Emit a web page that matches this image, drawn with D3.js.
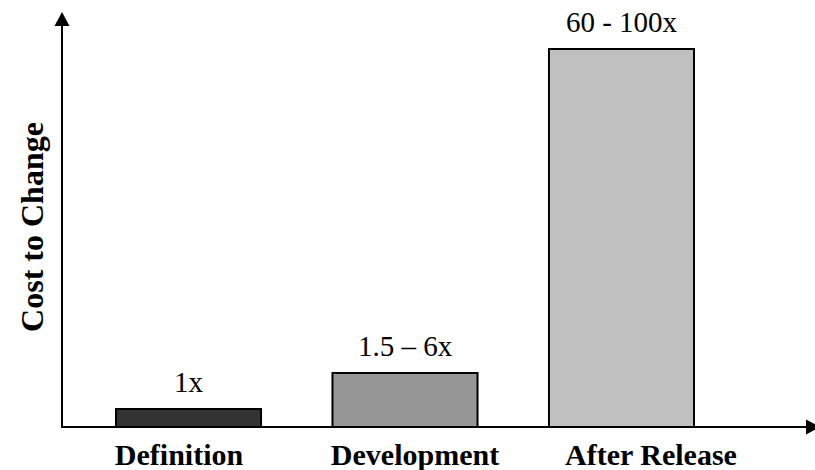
<!DOCTYPE html>
<html>
<head>
<meta charset="utf-8">
<script src="https://cdn.jsdelivr.net/npm/d3@7"></script>
<style>
  html, body { margin: 0; padding: 0; background: #fff; }
  svg { display: block; }
  text { font-family: "Liberation Serif", "Times New Roman", serif; fill: #000; }
</style>
</head>
<body>
<svg id="chart" width="815" height="470"></svg>
<script>
// Data
const categories = ["Definition", "Development", "After Release"];
const values = [1, 3, 21];
const valueLabels = ["1x", "1.5 \u2013 6x", "60 - 100x"];
const barColors = ["#333333", "#969696", "#c0c0c0"];
const yTitle = "Cost to Change";

const svg = d3.select("#chart");
const W = 815, H = 470;
const x0 = 62, y0 = 427;

const x = d3.scaleBand().domain(categories).range([116, 694]).paddingInner(0.33).paddingOuter(0);
const xLab = d3.scalePoint().domain(categories).range([179, 651]);
const y = d3.scaleLinear().domain([0, 23]).range([y0, 13]);

// Bars
svg.selectAll("rect.bar").data(categories).join("rect")
  .attr("class", "bar")
  .attr("x", d => x(d))
  .attr("y", (d, i) => y(values[i]))
  .attr("width", x.bandwidth())
  .attr("height", (d, i) => y(0) - y(values[i]))
  .attr("fill", (d, i) => barColors[i])
  .attr("stroke", "#000")
  .attr("stroke-width", 2);

// Value labels
svg.selectAll("text.val").data(categories).join("text")
  .attr("class", "val")
  .attr("x", d => x(d) + x.bandwidth() / 2)
  .attr("y", (d, i) => y(values[i]) - 17)
  .attr("text-anchor", "middle")
  .attr("font-size", 29)
  .text((d, i) => valueLabels[i]);

// Axes
svg.append("line").attr("x1", x0).attr("x2", x0).attr("y1", y0 + 1).attr("y2", 24)
  .attr("stroke", "#000").attr("stroke-width", 2);
svg.append("path").attr("d", `M${x0},12 L${x0 - 7.5},26 L${x0 + 7.5},26 Z`).attr("fill", "#000");

svg.append("line").attr("x1", x0 - 1).attr("x2", 808).attr("y1", y0).attr("y2", y0)
  .attr("stroke", "#000").attr("stroke-width", 2);
svg.append("path").attr("d", `M820,${y0} L806,${y0 - 7.5} L806,${y0 + 7.5} Z`).attr("fill", "#000");

// Category labels
svg.selectAll("text.cat").data(categories).join("text")
  .attr("class", "cat")
  .attr("x", d => xLab(d))
  .attr("y", 465)
  .attr("text-anchor", "middle")
  .attr("font-size", 30)
  .attr("font-weight", "bold")
  .text(d => d);

// Y title
svg.append("text")
  .attr("transform", "translate(43,227) rotate(-90)")
  .attr("text-anchor", "middle")
  .attr("font-size", 32)
  .attr("font-weight", "bold")
  .text(yTitle);
</script>
</body>
</html>
